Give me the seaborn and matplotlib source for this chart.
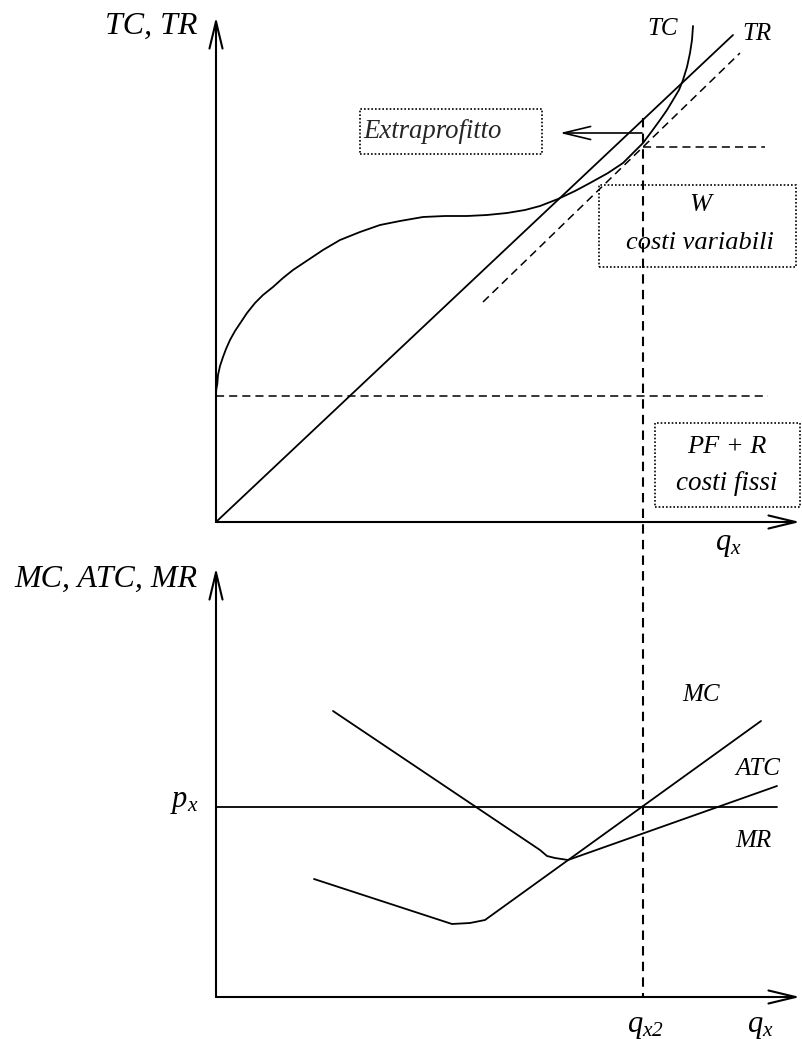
import matplotlib
matplotlib.use('Agg')
import matplotlib.pyplot as plt
import seaborn as sns
import pandas as pd
from matplotlib.patches import Rectangle

# diagram units: 1 unit = 10 px, origin at each panel's axis corner

# --- top panel: total cost / total revenue ---
tc_q = [0, 0.02, 0.13, 0.2, 0.4, 0.7, 1.0, 1.4, 1.9, 2.5, 3.1, 3.9, 4.7, 5.7, 6.7,
        7.7, 8.9, 10.7, 12.4, 14.4, 16.4, 18.4, 20.7, 22.9, 25.1, 27.1, 29.1, 30.9,
        32.4, 34.2, 35.9, 37.4, 39.2, 40.7, 41.7, 42.7, 43.6, 44.4, 45.1, 45.7, 46.3,
        46.7, 47.1, 47.4, 47.6, 47.7]
tc_v = [12.6, 13.2, 13.8, 14.7, 15.6, 16.5, 17.3, 18.2, 19.1, 20.0, 20.9, 21.9, 22.7,
        23.5, 24.4, 25.2, 26.0, 27.2, 28.2, 29.0, 29.7, 30.1, 30.5, 30.6, 30.6, 30.7,
        30.9, 31.2, 31.6, 32.3, 33.1, 33.9, 34.9, 35.9, 36.9, 37.9, 39.1, 40.2, 41.2,
        42.2, 43.2, 44.2, 45.5, 46.9, 48.2, 49.6]
tr_q = [0, 51.7]
tr_v = [0, 48.7]
tangent_q = [26.7, 52.4]
tangent_v = [22.0, 46.9]
fixed_cost = 12.6
q_x2 = 42.7
tc_at_qx2 = 37.5
tr_at_qx2 = 38.9

# --- bottom panel: marginal / average cost, marginal revenue ---
mc_q = [9.8, 23.6, 25.4, 26.9, 54.5]
mc_v = [11.8, 7.3, 7.4, 7.7, 27.6]
atc_q = [11.7, 32.4, 33.1, 33.9, 35.2, 56.1]
atc_v = [28.6, 14.7, 14.1, 13.9, 13.7, 21.1]
price = 19.0

sns.set_theme(style='white')
plt.rcParams['font.family'] = ['Liberation Serif', 'DejaVu Serif']
plt.rcParams['mathtext.fontset'] = 'custom'
plt.rcParams['mathtext.it'] = 'Liberation Serif:italic'
plt.rcParams['mathtext.rm'] = 'Liberation Serif:italic'

W, H = 803, 1039
fig = plt.figure(figsize=(W / 100, H / 100), dpi=100)
fig.patch.set_facecolor('white')

ax1 = fig.add_axes([216 / W, (H - 522) / H, 587 / W, 505 / H])
ax2 = fig.add_axes([216 / W, (H - 997) / H, 587 / W, 429 / H])
ax1.set_xlim(0, 58.7); ax1.set_ylim(0, 50.5)
ax2.set_xlim(0, 58.7); ax2.set_ylim(0, 42.9)
for ax in (ax1, ax2):
    ax.set_axis_off()
    ax.patch.set_alpha(0)

arrow = dict(arrowstyle='->,head_length=1.95,head_width=0.47', lw=1.5, color='black',
             shrinkA=0, shrinkB=0, mutation_scale=10)


def axis_arrows(ax, top):
    ax.annotate('', xy=(58.4, 0), xytext=(0, 0), arrowprops=arrow, annotation_clip=False)
    ax.annotate('', xy=(0, top), xytext=(0, 0), arrowprops=arrow, annotation_clip=False)


def lbl(ax, x, y, s, size=18, ha='center'):
    ax.text(x, y, s, fontsize=size, style='italic', ha=ha, va='baseline', color='black')


dash = (0, (5.3, 3.3))

# top panel
axis_arrows(ax1, 50.5)
sns.lineplot(x=tc_q, y=tc_v, ax=ax1, color='black', lw=1.3, sort=False, estimator=None)
sns.lineplot(x=tr_q, y=tr_v, ax=ax1, color='black', lw=1.3, sort=False, estimator=None)
ax1.plot(tangent_q, tangent_v, color='black', lw=1.1, ls=dash)
ax1.plot([0, 55.2], [fixed_cost, fixed_cost], color='black', lw=1.1, ls=dash)
ax1.plot([q_x2, 54.9], [tc_at_qx2, tc_at_qx2], color='black', lw=1.1, ls=dash)
ax1.plot([q_x2, q_x2], [40.4, -47.5], color='black', lw=1.5, ls=(0, (4.5, 3)), clip_on=False)
ax1.annotate('', xy=(34.4, tr_at_qx2), xytext=(42.6, tr_at_qx2),
             arrowprops=dict(arrow, lw=1.2), annotation_clip=False)

boxes = [(14.4, 36.8, 18.2, 4.5), (38.3, 25.5, 19.7, 8.2), (43.9, 1.5, 14.5, 8.4)]
for bx, by, bw, bh in boxes:
    ax1.add_patch(Rectangle((bx, by), bw, bh, fill=False, ec='black', lw=1.2,
                            ls=(0, (1, 1.2)), clip_on=False))

ax1.text(14.7, 39.1, 'Extraprofitto', fontsize=19.3, style='italic', ha='left', va='center')
lbl(ax1, 48.4, 31.1, 'W', size=19)
lbl(ax1, 48.4, 27.3, 'costi variabili', size=19)
lbl(ax1, 51.1, 6.9, 'PF + R', size=19)
lbl(ax1, 51.1, 3.2, 'costi fissi', size=19.5)
lbl(ax1, -1.9, 48.8, 'TC, TR', size=23, ha='right')
lbl(ax1, 44.7, 48.7, 'TC')
lbl(ax1, 54.1, 48.2, 'TR')
lbl(ax1, 51.2, -2.8, r'$q_x$', size=22)

# bottom panel
axis_arrows(ax2, 42.9)
ax2.plot([0, 56.1], [price, price], color='black', lw=1.3)
sns.lineplot(x=mc_q, y=mc_v, ax=ax2, color='black', lw=1.3, sort=False, estimator=None)
sns.lineplot(x=atc_q, y=atc_v, ax=ax2, color='black', lw=1.3, sort=False, estimator=None)

lbl(ax2, -1.9, 41.0, 'MC, ATC, MR', size=23, ha='right')
lbl(ax2, -1.8, 19.0, r'$p_x$', size=22, ha='right')
lbl(ax2, 48.5, 29.6, 'MC')
lbl(ax2, 54.2, 22.2, 'ATC')
lbl(ax2, 53.7, 15.0, 'MR')
lbl(ax2, 42.9, -3.5, r'$q_{x\mathit{2}}$', size=22)
lbl(ax2, 54.4, -3.5, r'$q_x$', size=22)

for ax in (ax1, ax2):
    for ln in ax.lines:
        ln.set_clip_on(False)

fig.savefig('out.png', dpi=100, facecolor='white')
